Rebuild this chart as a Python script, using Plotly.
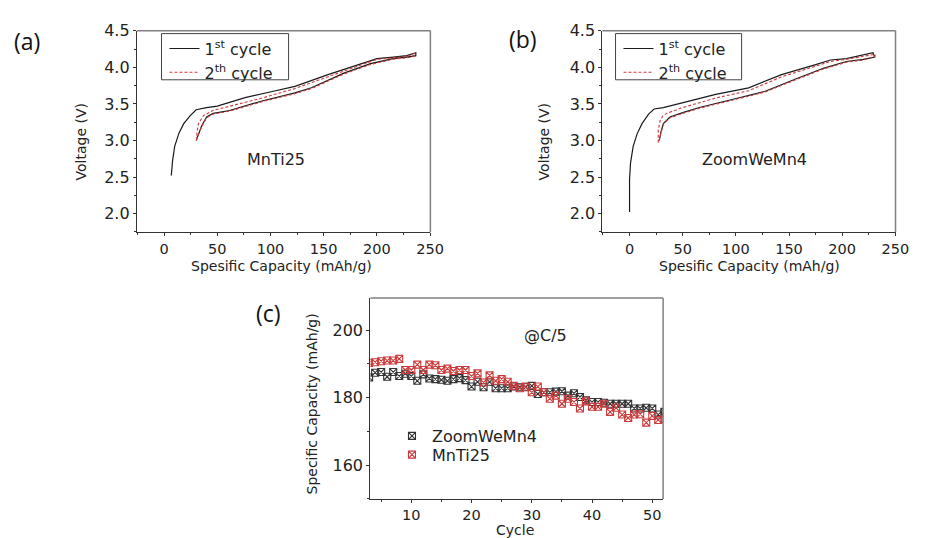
import plotly.graph_objects as go

# ---------------- data ----------------
# (a) MnTi25 charge/discharge
a_c1_cap = [6.8, 8, 10, 12, 14, 18.5, 24.6, 30.2, 40, 50, 77, 101.6, 123, 154, 185, 200, 215.5, 228, 236.5,
            236.5, 228, 215, 194, 169, 138.5, 123, 92, 61.6, 46, 40, 35.4, 32.3, 30.2]
a_c1_v = [2.52, 2.72, 2.92, 3.02, 3.1, 3.23, 3.34, 3.42, 3.45, 3.47, 3.59, 3.67, 3.74, 3.9, 4.05, 4.12, 4.14, 4.16, 4.2,
          4.16, 4.14, 4.12, 4.05, 3.92, 3.72, 3.65, 3.54, 3.41, 3.37, 3.32, 3.2, 3.09, 3.0]
a_c2_cap = [30.5, 31, 32.3, 35, 37, 46, 61.6, 92, 123, 154, 185, 200, 215, 228, 235.5,
            235.5, 228, 215, 194, 169, 138.5, 123, 92, 61.6, 46, 40, 35.4, 32.3, 30.5]
a_c2_v = [3.0, 3.12, 3.23, 3.3, 3.34, 3.41, 3.47, 3.58, 3.71, 3.87, 4.04, 4.11, 4.13, 4.15, 4.19,
          4.15, 4.13, 4.11, 4.04, 3.91, 3.71, 3.64, 3.53, 3.40, 3.36, 3.31, 3.19, 3.08, 3.02]

# (b) ZoomWeMn4 charge/discharge
b_c1_cap = [0, 0, 0.9, 3.4, 7.1, 11.7, 17.9, 23.1, 31.8, 50, 81, 112, 143, 173.5, 189, 204, 220, 229,
            230.6, 220, 204, 183, 158, 127, 96.5, 65.7, 50, 38, 31.8, 29.6, 28]
b_c1_v = [2.02, 2.47, 2.69, 2.92, 3.09, 3.23, 3.36, 3.43, 3.45, 3.52, 3.63, 3.72, 3.9, 4.03, 4.1, 4.12, 4.17, 4.2,
          4.14, 4.11, 4.08, 3.99, 3.85, 3.67, 3.56, 3.45, 3.38, 3.32, 3.23, 3.12, 3.0]
b_c2_cap = [27, 27, 28.7, 31, 34.8, 50, 81, 112, 143, 173.5, 189, 204, 220, 231,
            231, 220, 204, 183, 158, 127, 96.5, 65.7, 50, 38, 31.8, 29.6, 27.5]
b_c2_v = [2.97, 3.14, 3.27, 3.33, 3.37, 3.45, 3.58, 3.68, 3.87, 4.01, 4.08, 4.11, 4.15, 4.18,
          4.15, 4.1, 4.07, 3.98, 3.84, 3.66, 3.55, 3.44, 3.37, 3.31, 3.22, 3.11, 2.99]

# (c) cycling at C/5
cycles = list(range(3, 53))
zoom_cap = [186.0, 187.4, 187.6, 186.2, 187.6, 186.4, 187.1, 186.4, 185.0, 186.9,
            185.7, 185.5, 185.3, 185.0, 185.5, 185.8, 185.2, 183.3, 184.7, 183.1,
            184.7, 182.8, 182.8, 182.8, 183.3, 183.1, 183.1, 183.5, 181.1, 181.6,
            181.6, 181.8, 181.9, 180.6, 181.3, 180.2, 179.2, 178.7, 178.7, 178.5,
            178.2, 178.2, 178.2, 178.2, 176.8, 176.8, 177.0, 176.8, 175.0, 175.8]
mnti_cap = [190.3, 190.5, 190.8, 191.0, 191.0, 191.5, 188.2, 188.2, 189.8, 188.2,
            189.8, 189.6, 188.2, 188.6, 187.9, 188.2, 188.2, 186.4, 187.2, 184.5,
            186.6, 185.0, 185.5, 184.7, 183.5, 182.8, 183.3, 181.6, 183.3, 181.6,
            179.7, 180.6, 178.2, 179.7, 178.7, 176.8, 178.9, 177.3, 177.3, 178.2,
            175.8, 177.0, 175.0, 174.0, 175.0, 175.1, 172.6, 174.6, 173.4, 173.7]

cycle1_name = "1<sup>st</sup> cycle"
cycle2_name = "2<sup>th</sup> cycle"

# ---------------- figure ----------------
W, H = 925, 538
FONT = "DejaVu Sans"
BLACK = "#1a1a1a"
RED = "#cc3b3b"


def px(x):
    return x / W


def py(y):
    return 1 - y / H


fig = go.Figure()

fig.add_trace(go.Scatter(x=a_c1_cap, y=a_c1_v, mode="lines", name=cycle1_name,
                         line=dict(color=BLACK, width=1.2), xaxis="x", yaxis="y", legend="legend"))
fig.add_trace(go.Scatter(x=a_c2_cap, y=a_c2_v, mode="lines", name=cycle2_name,
                         line=dict(color=RED, width=1.1, dash="3px,2px"), xaxis="x", yaxis="y", legend="legend"))
fig.add_trace(go.Scatter(x=b_c1_cap, y=b_c1_v, mode="lines", name=cycle1_name,
                         line=dict(color=BLACK, width=1.2), xaxis="x2", yaxis="y2", legend="legend2"))
fig.add_trace(go.Scatter(x=b_c2_cap, y=b_c2_v, mode="lines", name=cycle2_name,
                         line=dict(color=RED, width=1.1, dash="3px,2px"), xaxis="x2", yaxis="y2", legend="legend2"))
fig.add_trace(go.Scatter(x=cycles, y=zoom_cap, mode="markers", name="ZoomWeMn4",
                         marker=dict(symbol="square-x-open", size=7, color="#333333", line=dict(width=1.1)),
                         xaxis="x3", yaxis="y3", legend="legend3"))
fig.add_trace(go.Scatter(x=cycles, y=mnti_cap, mode="markers", name="MnTi25",
                         marker=dict(symbol="square-x-open", size=7, color=RED, line=dict(width=1.1)),
                         xaxis="x3", yaxis="y3", legend="legend4"))

common_axis = dict(showgrid=False, zeroline=False, showline=True, linecolor="#333", linewidth=1.2,
                   ticks="outside", ticklen=3, tickcolor="#333", tickwidth=1)
xfont = dict(family=FONT, size=14.5, color="#222")
yfont = dict(family=FONT, size=16, color="#222")

dom_a_x = [px(139), px(437)]
dom_b_x = [px(611.7), px(909.3)]
dom_ab_y = [py(227), py(22)]
dom_c_x = [px(376), px(673.3)]
dom_c_y = [py(498.3), py(294)]

leg_common = dict(xanchor="left", yanchor="top", bgcolor="rgba(0,0,0,0)", borderwidth=0,
                  font=dict(family=FONT, size=16, color="#222"), tracegroupgap=0)

fig.update_layout(
    width=W, height=H, margin=dict(l=0, r=0, t=0, b=0),
    paper_bgcolor="white", plot_bgcolor="white",
    font=dict(family=FONT, color="#222"),
    xaxis=dict(domain=dom_a_x, anchor="y", range=[-25.5, 250.2], dtick=50, tick0=0, tickfont=xfont,
               minor=dict(ticks="outside", ticklen=2, dtick=25, tick0=0, tickcolor="#333"), **common_axis),
    yaxis=dict(domain=dom_ab_y, anchor="x", range=[1.745, 4.502], dtick=0.5, tick0=0, tickformat=".1f",
               tickfont=yfont,
               minor=dict(ticks="outside", ticklen=2, dtick=0.25, tick0=0, tickcolor="#333"), **common_axis),
    xaxis2=dict(domain=dom_b_x, anchor="y2", range=[-25.5, 250.2], dtick=50, tick0=0, tickfont=xfont,
                minor=dict(ticks="outside", ticklen=2, dtick=25, tick0=0, tickcolor="#333"), **common_axis),
    yaxis2=dict(domain=dom_ab_y, anchor="x2", range=[1.745, 4.502], dtick=0.5, tick0=0, tickformat=".1f",
                tickfont=yfont,
                minor=dict(ticks="outside", ticklen=2, dtick=0.25, tick0=0, tickcolor="#333"), **common_axis),
    xaxis3=dict(domain=dom_c_x, anchor="y3", range=[3.2, 51.8], dtick=10, tick0=0, tickfont=xfont,
                minor=dict(ticks="outside", ticklen=2, dtick=5, tick0=0, tickcolor="#333"), **common_axis),
    yaxis3=dict(domain=dom_c_y, anchor="x3", range=[150, 209.5], dtick=20, tick0=0, tickfont=yfont,
                minor=dict(ticks="outside", ticklen=2, dtick=10, tick0=0, tickcolor="#333"), **common_axis),
    legend=dict(x=px(167), y=py(23), **leg_common),
    legend2=dict(x=px(628), y=py(23), **leg_common),
    legend3=dict(x=px(398), y=py(417), **leg_common),
    legend4=dict(x=px(398), y=py(436), **leg_common),
    showlegend=True,
)

# legend boxes of (a) and (b)
for x0, x1 in [(164, 293), (625, 753)]:
    fig.add_shape(type="rect", xref="paper", yref="paper", x0=px(x0), x1=px(x1), y0=py(72), y1=py(25),
                  line=dict(color="#444", width=1), fillcolor="rgba(0,0,0,0)")

# top / right frame lines (lighter grey)
for xr, yr in [("x", "y"), ("x2", "y2"), ("x3", "y3")]:
    fig.add_shape(type="line", xref=f"{xr} domain", yref=f"{yr} domain", x0=0, x1=1, y0=1, y1=1,
                  line=dict(color="#808080", width=1.5))
    fig.add_shape(type="line", xref=f"{xr} domain", yref=f"{yr} domain", x0=1, x1=1, y0=0, y1=1,
                  line=dict(color="#808080", width=1.5))


def ann(text, x, y, size, family=FONT, angle=0, color="#222"):
    fig.add_annotation(text=text, x=px(x), y=py(y), xref="paper", yref="paper", showarrow=False,
                       xanchor="center", yanchor="middle", textangle=angle,
                       font=dict(family=family, size=size, color=color))


# panel letters
ann("(a)", 27, 33, 23, family="Open Sans", color="#111")
ann("(b)", 531, 31, 23, family="Open Sans", color="#111")
ann("(c)", 273, 309, 23, family="Open Sans", color="#111")

# axis titles
ann("Voltage (V)", 82, 135, 14, angle=-90)
ann("Spesific Capacity (mAh/g)", 286, 261, 14)
ann("Voltage (V)", 552, 135, 14, angle=-90)
ann("Spesific Capacity (mAh/g)", 761, 261, 14)
ann("Specific Capacity (mAh/g)", 317, 402, 14, angle=-90)
ann("Cycle", 523, 530, 14)

# in-plot labels
ann("MnTi25", 280, 153, 16)
ann("ZoomWeMn4", 766, 153, 16)
ann("@C/5", 554, 332, 16)

fig.write_html("out.html", config={"displayModeBar": False},
               post_script="document.body.style.margin='0';document.body.style.overflow='hidden';")
